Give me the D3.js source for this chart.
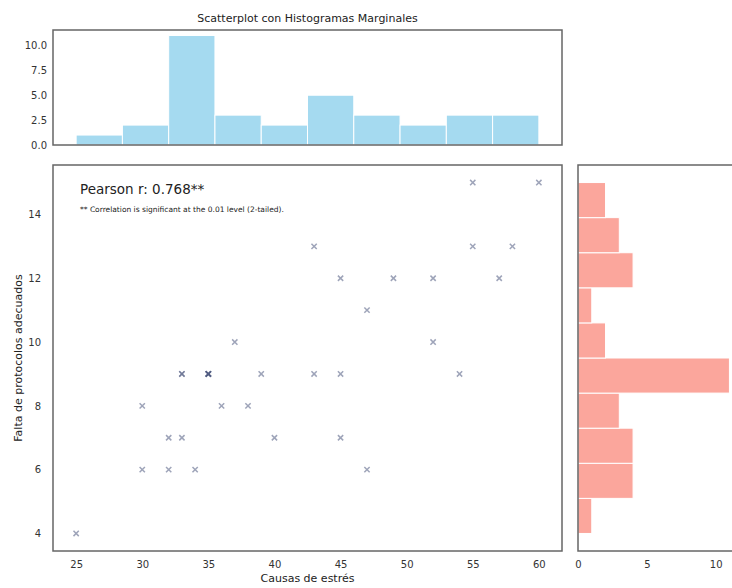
<!DOCTYPE html>
<html>
<head>
<meta charset="utf-8">
<script src="https://cdn.jsdelivr.net/npm/d3@7"></script>
<style>
  body { margin: 0; background: #fff; }
  svg { font-family: "DejaVu Sans", sans-serif; display: block; }
  .tick text { fill: #333; }
</style>
</head>
<body>
<div id="chart"></div>
<script>
// scatter data (Causas de estrés vs Falta de protocolos adecuados)
const causas = [25, 30, 30, 32, 32, 33, 33, 33, 34, 35, 35, 35, 35, 35, 36, 37, 38, 39, 40,
                43, 43, 45, 45, 45, 47, 47, 49, 52, 52, 54, 55, 55, 57, 58, 60];
const falta  = [4, 8, 6, 7, 6, 9, 9, 7, 6, 9, 9, 9, 9, 9, 8, 10, 8, 9, 7,
                13, 9, 12, 9, 7, 11, 6, 12, 12, 10, 9, 15, 13, 12, 13, 15];

// marginal histogram counts (10 bins each)
const xCounts = [1, 2, 11, 3, 2, 5, 3, 2, 3, 3];
const yCounts = [1, 4, 4, 3, 11, 2, 1, 4, 3, 2];

const xTicks = [25, 30, 35, 40, 45, 50, 55, 60];
const yTicks = [4, 6, 8, 10, 12, 14];
const topTicks = [0, 2.5, 5, 7.5, 10];
const rightTicks = [0, 5, 10];

const W = 732, H = 588;
const svg = d3.select("#chart").append("svg")
  .attr("width", W).attr("height", H);

const mainBox = { left: 53, right: 562, top: 165, bottom: 551 };
const topBox = { top: 30, bottom: 145 };
const sideBox = { left: 578, right: 737 };

const xMin = d3.min(causas), xMax = d3.max(causas);
const yMin = d3.min(falta), yMax = d3.max(falta);
const xPad = (xMax - xMin) * 0.05, yPad = (yMax - yMin) * 0.05;

const x = d3.scaleLinear().domain([xMin - xPad, xMax + xPad]).range([mainBox.left, mainBox.right]);
const y = d3.scaleLinear().domain([yMin - yPad, yMax + yPad]).range([mainBox.bottom, mainBox.top]);
const yTop = d3.scaleLinear().domain([0, d3.max(xCounts) * 1.05]).range([topBox.bottom, topBox.top]);
const xSide = d3.scaleLinear().domain([0, d3.max(yCounts) * 1.05]).range([sideBox.left, sideBox.right]);

const xStep = (xMax - xMin) / xCounts.length;
const yStep = (yMax - yMin) / yCounts.length;

const frame = "#666";

// title
svg.append("text")
  .attr("x", (mainBox.left + mainBox.right) / 2)
  .attr("y", 22)
  .attr("text-anchor", "middle")
  .attr("font-size", "11px")
  .attr("fill", "#222")
  .text("Scatterplot con Histogramas Marginales");

// top histogram
svg.append("g").selectAll("rect")
  .data(xCounts)
  .join("rect")
  .attr("x", (d, i) => x(xMin + i * xStep))
  .attr("width", x(xMin + xStep) - x(xMin))
  .attr("y", d => yTop(d))
  .attr("height", d => yTop(0) - yTop(d))
  .attr("fill", "#87ceeb")
  .attr("fill-opacity", 0.75)
  .attr("stroke", "#fff")
  .attr("stroke-width", 1);

svg.append("g")
  .attr("transform", `translate(${mainBox.left},0)`)
  .call(d3.axisLeft(yTop).tickValues(topTicks).tickFormat(d3.format(".1f")).tickSize(0).tickPadding(6))
  .call(g => g.select(".domain").remove())
  .selectAll("text").attr("font-size", "10px").attr("font-family", "DejaVu Sans");

svg.append("rect")
  .attr("x", mainBox.left).attr("y", topBox.top)
  .attr("width", mainBox.right - mainBox.left).attr("height", topBox.bottom - topBox.top)
  .attr("fill", "none").attr("stroke", frame).attr("stroke-width", 1.5);

// scatter
svg.append("g").selectAll("path")
  .data(causas.map((c, i) => [c, falta[i]]))
  .join("path")
  .attr("transform", d => `translate(${x(d[0])},${y(d[1])})`)
  .attr("d", d3.symbol(d3.symbolTimes, 20))
  .attr("fill", "none")
  .attr("stroke", "#4f5a80")
  .attr("stroke-opacity", 0.55)
  .attr("stroke-width", 1.5);

svg.append("g")
  .attr("transform", `translate(0,${mainBox.bottom})`)
  .call(d3.axisBottom(x).tickValues(xTicks).tickSize(0).tickPadding(10))
  .call(g => g.select(".domain").remove())
  .selectAll("text").attr("font-size", "10px").attr("font-family", "DejaVu Sans");

svg.append("g")
  .attr("transform", `translate(${mainBox.left},0)`)
  .call(d3.axisLeft(y).tickValues(yTicks).tickSize(0).tickPadding(12))
  .call(g => g.select(".domain").remove())
  .selectAll("text").attr("font-size", "10px").attr("font-family", "DejaVu Sans");

svg.append("rect")
  .attr("x", mainBox.left).attr("y", mainBox.top)
  .attr("width", mainBox.right - mainBox.left).attr("height", mainBox.bottom - mainBox.top)
  .attr("fill", "none").attr("stroke", frame).attr("stroke-width", 1.5);

svg.append("text")
  .attr("x", 80).attr("y", 194)
  .attr("font-size", "13.5px").attr("fill", "#222")
  .text("Pearson r: 0.768**");

svg.append("text")
  .attr("x", 80).attr("y", 212)
  .attr("font-size", "7.5px").attr("fill", "#222")
  .text("** Correlation is significant at the 0.01 level (2-tailed).");

svg.append("text")
  .attr("x", (mainBox.left + mainBox.right) / 2)
  .attr("y", 582)
  .attr("text-anchor", "middle")
  .attr("font-size", "11px").attr("fill", "#222")
  .text("Causas de estrés");

svg.append("text")
  .attr("transform", `translate(22,${(mainBox.top + mainBox.bottom) / 2}) rotate(-90)`)
  .attr("text-anchor", "middle")
  .attr("font-size", "11px").attr("fill", "#222")
  .text("Falta de protocolos adecuados");

// right histogram
svg.append("g").selectAll("rect")
  .data(yCounts)
  .join("rect")
  .attr("x", xSide(0))
  .attr("width", d => xSide(d) - xSide(0))
  .attr("y", (d, i) => y(yMin + (i + 1) * yStep))
  .attr("height", y(yMin) - y(yMin + yStep))
  .attr("fill", "#fa8072")
  .attr("fill-opacity", 0.7)
  .attr("stroke", "#fff")
  .attr("stroke-width", 1);

svg.append("g")
  .attr("transform", `translate(0,${mainBox.bottom})`)
  .call(d3.axisBottom(xSide).tickValues(rightTicks).tickSize(0).tickPadding(10))
  .call(g => g.select(".domain").remove())
  .selectAll("text").attr("font-size", "10px").attr("font-family", "DejaVu Sans");

svg.append("rect")
  .attr("x", sideBox.left).attr("y", mainBox.top)
  .attr("width", sideBox.right - sideBox.left).attr("height", mainBox.bottom - mainBox.top)
  .attr("fill", "none").attr("stroke", frame).attr("stroke-width", 1.5);
</script>
</body>
</html>
